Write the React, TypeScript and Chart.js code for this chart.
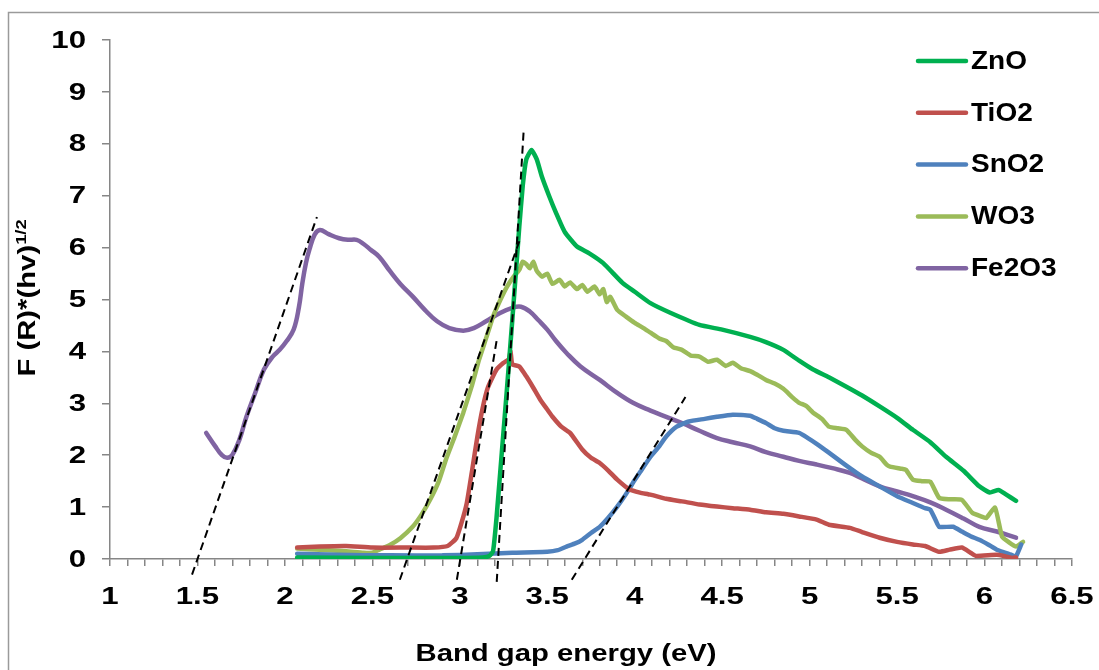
import React, { useEffect, useRef } from 'react';
import { Chart, registerables } from 'chart.js';
Chart.register(...registerables);

// ---- axes ----
const X_MIN = 1;
const X_MAX = 6.5;
const X_MINOR_STEP = 0.1;
const X_LABELS = ['1', '1.5', '2', '2.5', '3', '3.5', '4', '4.5', '5', '5.5', '6', '6.5'];
const Y_MIN = 0;
const Y_MAX = 10;
const Y_LABELS = ['0', '1', '2', '3', '4', '5', '6', '7', '8', '9', '10'];
const X_TITLE = 'Band gap energy (eV)';
const Y_TITLE = 'F (R)*(hv)';
const Y_TITLE_SUP = '1/2';

// ---- series ----
const SERIES_NAMES = ['ZnO', 'TiO2', 'SnO2', 'WO3', 'Fe2O3'];
const SERIES_COLORS = ['#00B050', '#C0504D', '#4F81BD', '#9BBB59', '#8064A2'];

const ZNO_E = [2.07, 2.5, 3.0, 3.13, 3.17, 3.19, 3.21, 3.24, 3.27, 3.30, 3.34, 3.36, 3.38, 3.41, 3.44, 3.47, 3.51, 3.55, 3.60, 3.67, 3.74, 3.82, 3.93, 4.00, 4.09, 4.20, 4.37, 4.50, 4.66, 4.75, 4.85, 4.94, 5.02, 5.11, 5.21, 5.30, 5.40, 5.50, 5.59, 5.69, 5.78, 5.88, 5.97, 6.03, 6.08, 6.12, 6.18];
const ZNO_F = [0.03, 0.02, 0.02, 0.03, 0.06, 0.15, 0.8, 2.05, 3.3, 4.6, 6.4, 7.2, 7.7, 7.88, 7.7, 7.36, 7.0, 6.67, 6.3, 6.02, 5.89, 5.70, 5.32, 5.15, 4.93, 4.75, 4.51, 4.42, 4.28, 4.18, 4.03, 3.82, 3.65, 3.5, 3.32, 3.15, 2.94, 2.72, 2.49, 2.25, 1.97, 1.70, 1.40, 1.28, 1.33, 1.25, 1.12];

const TIO2_E = [2.07, 2.2, 2.35, 2.5, 2.7, 2.85, 2.93, 2.98, 3.01, 3.04, 3.07, 3.10, 3.13, 3.16, 3.21, 3.25, 3.28, 3.29, 3.30, 3.34, 3.38, 3.42, 3.46, 3.50, 3.53, 3.58, 3.63, 3.70, 3.75, 3.80, 3.85, 3.90, 3.97, 4.03, 4.09, 4.18, 4.27, 4.37, 4.47, 4.56, 4.66, 4.75, 4.85, 4.94, 5.04, 5.11, 5.23, 5.30, 5.40, 5.50, 5.59, 5.66, 5.74, 5.80, 5.87, 5.92, 5.95, 6.07, 6.12, 6.16, 6.18];
const TIO2_F = [0.22, 0.24, 0.25, 0.22, 0.22, 0.22, 0.25, 0.4, 0.7, 1.08, 1.7, 2.35, 2.9, 3.3, 3.65, 3.78, 3.85, 4.0, 3.75, 3.71, 3.52, 3.3, 3.07, 2.88, 2.74, 2.55, 2.43, 2.11, 1.95, 1.85, 1.7, 1.53, 1.34, 1.28, 1.24, 1.16, 1.11, 1.05, 1.01, 0.98, 0.95, 0.9, 0.87, 0.82, 0.76, 0.66, 0.6, 0.52, 0.41, 0.33, 0.28, 0.25, 0.14, 0.18, 0.22, 0.12, 0.06, 0.08, 0.05, 0.02, 0.03];

const SNO2_E = [2.07, 2.3, 2.6, 2.9, 3.1, 3.3, 3.5, 3.56, 3.61, 3.66, 3.70, 3.75, 3.80, 3.85, 3.90, 3.95, 3.99, 4.04, 4.09, 4.14, 4.18, 4.24, 4.31, 4.40, 4.47, 4.56, 4.66, 4.70, 4.75, 4.80, 4.85, 4.94, 4.99, 5.04, 5.11, 5.21, 5.30, 5.40, 5.50, 5.59, 5.66, 5.69, 5.72, 5.74, 5.82, 5.87, 5.92, 5.97, 6.02, 6.07, 6.12, 6.16, 6.18, 6.21];
const SNO2_F = [0.1, 0.08, 0.07, 0.07, 0.09, 0.12, 0.14, 0.17, 0.24, 0.30, 0.37, 0.5, 0.62, 0.8, 1.01, 1.25, 1.47, 1.72, 1.97, 2.17, 2.36, 2.55, 2.65, 2.70, 2.74, 2.78, 2.76, 2.70, 2.62, 2.52, 2.47, 2.43, 2.33, 2.22, 2.05, 1.8, 1.59, 1.40, 1.21, 1.08, 0.98, 0.95, 0.75, 0.62, 0.62, 0.53, 0.44, 0.37, 0.28, 0.18, 0.12, 0.07, 0.05, 0.28];

const WO3_E = [2.07, 2.2, 2.35, 2.45, 2.50, 2.54, 2.60, 2.66, 2.73, 2.78, 2.83, 2.88, 2.92, 2.97, 3.02, 3.07, 3.11, 3.15, 3.19, 3.23, 3.27, 3.31, 3.34, 3.36, 3.38, 3.40, 3.42, 3.44, 3.47, 3.50, 3.53, 3.57, 3.60, 3.63, 3.67, 3.70, 3.73, 3.77, 3.80, 3.82, 3.84, 3.86, 3.90, 3.95, 4.00, 4.05, 4.09, 4.14, 4.18, 4.22, 4.27, 4.32, 4.37, 4.42, 4.47, 4.52, 4.56, 4.61, 4.66, 4.70, 4.75, 4.80, 4.85, 4.90, 4.94, 4.98, 5.02, 5.07, 5.11, 5.16, 5.21, 5.26, 5.30, 5.35, 5.40, 5.44, 5.46, 5.52, 5.55, 5.59, 5.64, 5.69, 5.74, 5.80, 5.87, 5.93, 5.98, 6.01, 6.06, 6.10, 6.14, 6.18, 6.22];
const WO3_F = [0.2, 0.18, 0.15, 0.12, 0.12, 0.18, 0.27, 0.40, 0.62, 0.85, 1.14, 1.5, 1.91, 2.35, 2.82, 3.35, 3.84, 4.25, 4.67, 4.98, 5.25, 5.45, 5.57, 5.73, 5.68, 5.6, 5.73, 5.55, 5.44, 5.5, 5.30, 5.38, 5.25, 5.33, 5.2, 5.28, 5.15, 5.25, 5.10, 5.2, 4.95, 5.05, 4.8, 4.67, 4.55, 4.45, 4.36, 4.25, 4.2, 4.08, 4.03, 3.92, 3.90, 3.8, 3.84, 3.72, 3.78, 3.67, 3.62, 3.55, 3.45, 3.38, 3.28, 3.12, 3.01, 2.95, 2.82, 2.7, 2.55, 2.52, 2.49, 2.3, 2.17, 2.05, 1.97, 1.82, 1.78, 1.74, 1.72, 1.53, 1.5, 1.49, 1.18, 1.15, 1.14, 0.89, 0.82, 0.79, 0.99, 0.43, 0.32, 0.24, 0.33];

const FE2O3_E = [1.55, 1.60, 1.64, 1.67, 1.70, 1.74, 1.78, 1.83, 1.88, 1.93, 1.97, 2.01, 2.05, 2.08, 2.10, 2.12, 2.14, 2.17, 2.20, 2.25, 2.31, 2.36, 2.41, 2.45, 2.49, 2.54, 2.60, 2.66, 2.73, 2.80, 2.87, 2.94, 3.02, 3.08, 3.15, 3.23, 3.30, 3.35, 3.40, 3.45, 3.50, 3.55, 3.61, 3.69, 3.80, 3.90, 3.99, 4.09, 4.18, 4.27, 4.37, 4.47, 4.56, 4.66, 4.75, 4.85, 4.94, 5.04, 5.13, 5.23, 5.30, 5.40, 5.50, 5.59, 5.69, 5.78, 5.88, 5.97, 6.07, 6.18];
const FE2O3_F = [2.43, 2.18, 2.0, 1.95, 2.01, 2.3, 2.74, 3.2, 3.65, 3.9, 4.03, 4.2, 4.42, 4.85, 5.32, 5.7, 5.96, 6.25, 6.34, 6.26, 6.18, 6.15, 6.15, 6.07, 5.96, 5.82, 5.55, 5.3, 5.06, 4.8, 4.58, 4.45, 4.40, 4.45, 4.58, 4.74, 4.84, 4.86, 4.77, 4.6, 4.42, 4.2, 3.97, 3.71, 3.45, 3.2, 3.01, 2.86, 2.74, 2.62, 2.47, 2.33, 2.25, 2.17, 2.06, 1.97, 1.89, 1.82, 1.75, 1.66, 1.55, 1.40, 1.30, 1.21, 1.09, 0.95, 0.78, 0.62, 0.53, 0.41];

// ---- tangent (band-gap) lines: two end points each ----
const TANGENT_E = [
  [1.469, 2.183],
  [2.657, 3.343],
  [2.983, 3.211],
  [3.211, 3.366],
  [3.64, 4.29],
];
const TANGENT_F = [
  [-0.30, 6.59],
  [-0.40, 6.15],
  [-0.40, 4.22],
  [-0.44, 8.31],
  [-0.40, 3.12],
];

const SERIES_E = [ZNO_E, TIO2_E, SNO2_E, WO3_E, FE2O3_E];
const SERIES_F = [ZNO_F, TIO2_F, SNO2_F, WO3_F, FE2O3_F];

const FONT = '"Liberation Sans", Arial, sans-serif';
const AXIS_GRAY = '#868686';

function stretchedText(
  ctx: CanvasRenderingContext2D,
  text: string,
  x: number,
  y: number,
  size: number,
  sx: number,
  align: CanvasTextAlign,
  baseline: CanvasTextBaseline,
  rotate = false
) {
  ctx.save();
  ctx.translate(x, y);
  if (rotate) ctx.rotate(-Math.PI / 2);
  ctx.scale(sx, 1);
  ctx.font = `bold ${size}px ${FONT}`;
  ctx.textAlign = align;
  ctx.textBaseline = baseline;
  ctx.fillStyle = '#000';
  ctx.fillText(text, 0, 0);
  ctx.restore();
}

const decorPlugin = {
  id: 'decor',
  beforeDraw(chart: any) {
    const ctx = chart.ctx as CanvasRenderingContext2D;
    ctx.save();
    ctx.fillStyle = '#fff';
    ctx.fillRect(0, 0, chart.width, chart.height);
    ctx.strokeStyle = '#9a9a9a';
    ctx.lineWidth = 1.5;
    ctx.beginPath();
    ctx.moveTo(8.5, chart.height);
    ctx.lineTo(8.5, 12.5);
    ctx.lineTo(chart.width, 12.5);
    ctx.stroke();
    ctx.restore();
  },
  afterDraw(chart: any) {
    const ctx = chart.ctx as CanvasRenderingContext2D;
    const xs = chart.scales.x;
    const ys = chart.scales.y;
    const area = chart.chartArea;
    // y tick labels
    Y_LABELS.forEach((lab) => {
      const py = ys.getPixelForValue(parseFloat(lab));
      stretchedText(ctx, lab, area.left - 24, py + 1, 24, 1.3, 'right', 'middle');
    });
    // x tick labels
    X_LABELS.forEach((lab) => {
      const px = xs.getPixelForValue(parseFloat(lab));
      stretchedText(ctx, lab, px, area.bottom + 38, 24, 1.3, 'center', 'middle');
    });
    // x title
    stretchedText(ctx, X_TITLE, 566, 661, 24, 1.22, 'center', 'alphabetic');
    // y title (rotated) with superscript
    ctx.save();
    ctx.font = `bold 24px ${FONT}`;
    const mainW = ctx.measureText(Y_TITLE).width * 1.22;
    ctx.font = `bold 15px ${FONT}`;
    const supW = ctx.measureText(Y_TITLE_SUP).width * 1.22;
    ctx.restore();
    const total = mainW + supW;
    const cy = 298;
    const startY = cy + total / 2;
    stretchedText(ctx, Y_TITLE, 35, startY, 24, 1.22, 'left', 'alphabetic', true);
    stretchedText(ctx, Y_TITLE_SUP, 26, startY - mainW, 15, 1.22, 'left', 'alphabetic', true);
    // legend
    SERIES_NAMES.forEach((name, i) => {
      const ly = 61 + i * 51.8;
      ctx.save();
      ctx.strokeStyle = SERIES_COLORS[i];
      ctx.lineWidth = 4.5;
      ctx.lineCap = 'round';
      ctx.beginPath();
      ctx.moveTo(918, ly);
      ctx.lineTo(966, ly);
      ctx.stroke();
      ctx.restore();
      stretchedText(ctx, name, 971, ly + 1, 25, 1.12, 'left', 'middle');
    });
  },
};

export default function App() {
  const ref = useRef<HTMLCanvasElement | null>(null);
  useEffect(() => {
    if (!ref.current) return;
    const curveSets = SERIES_NAMES.map((name, i) => ({
      label: name,
      data: SERIES_E[i].map((e, k) => ({ x: e, y: SERIES_F[i][k] })),
      borderColor: SERIES_COLORS[i],
      backgroundColor: SERIES_COLORS[i],
      borderWidth: 4.5,
      pointRadius: 0,
      tension: i === 4 ? 0.4 : 0.15,
      borderJoinStyle: 'round' as const,
      borderCapStyle: 'round' as const,
      fill: false,
      order: 10 + i,
    }));
    const tangentSets = TANGENT_E.map((es, i) => ({
      label: 'tangent' + i,
      data: es.map((e, k) => ({ x: e, y: TANGENT_F[i][k] })),
      borderColor: '#000',
      borderWidth: 2,
      borderDash: [8, 5],
      pointRadius: 0,
      tension: 0,
      fill: false,
      clip: false as any,
      order: 1,
    }));
    const chart = new Chart(ref.current, {
      type: 'line',
      data: { datasets: [...tangentSets, ...curveSets] as any },
      plugins: [decorPlugin],
      options: {
        animation: false,
        responsive: false,
        maintainAspectRatio: false,
        layout: { padding: { left: 102, top: 40, right: 27, bottom: 104 } },
        plugins: { legend: { display: false }, tooltip: { enabled: false }, title: { display: false } },
        scales: {
          x: {
            type: 'linear',
            min: X_MIN,
            max: X_MAX,
            afterBuildTicks: (scale: any) => {
              const t = [];
              const n = Math.round((X_MAX - X_MIN) / X_MINOR_STEP);
              for (let k = 0; k <= n; k++) t.push({ value: X_MIN + k * X_MINOR_STEP });
              scale.ticks = t;
            },
            ticks: { display: false },
            grid: { display: true, drawOnChartArea: false, drawTicks: true, tickLength: 7, color: AXIS_GRAY, lineWidth: 1.5 },
            border: { display: true, color: AXIS_GRAY, width: 1.5 },
          },
          y: {
            type: 'linear',
            min: Y_MIN,
            max: Y_MAX,
            afterBuildTicks: (scale: any) => {
              scale.ticks = Y_LABELS.map((l) => ({ value: parseFloat(l) }));
            },
            ticks: { display: false },
            grid: { display: true, drawOnChartArea: false, drawTicks: true, tickLength: 8, color: AXIS_GRAY, lineWidth: 1.5 },
            border: { display: true, color: AXIS_GRAY, width: 1.5 },
          },
        },
      } as any,
    });
    return () => chart.destroy();
  }, []);
  return (
    <div style={{ position: 'fixed', left: 0, top: 0, width: 1099, height: 670, background: '#fff' }}>
      <canvas ref={ref} width={1099} height={670} style={{ width: 1099, height: 670, display: 'block' }} />
    </div>
  );
}
